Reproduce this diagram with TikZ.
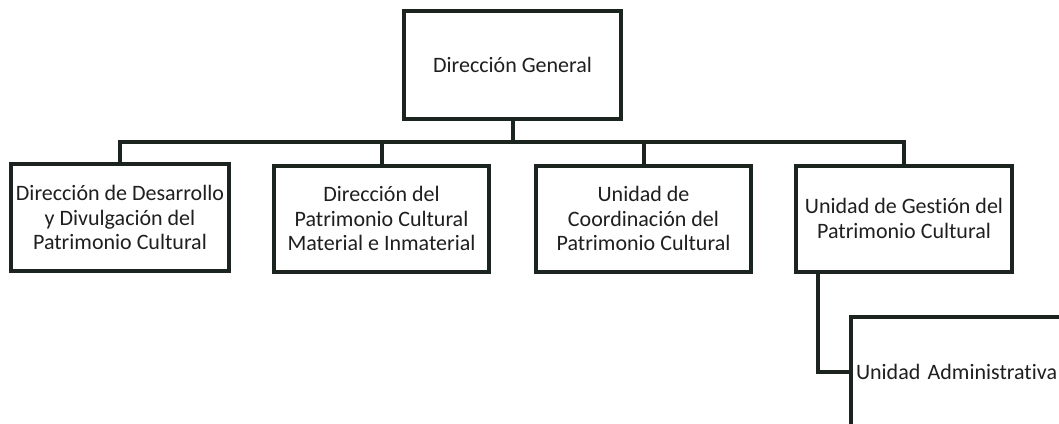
\documentclass[tikz,border=0pt]{standalone}
\usepackage{fontspec}
\setmainfont{Carlito}[Ligatures={NoCommon}]
\definecolor{ink}{RGB}{28,36,32}
\begin{document}
\begin{tikzpicture}[x=1pt,y=-1pt,
  box/.style={draw=ink,line width=4pt,fill=white,align=center,inner sep=0pt,
    font=\fontsize{22}{24.5}\selectfont,text=black!88},
  conn/.style={draw=ink,line width=4pt}]
\useasboundingbox (0,0) rectangle (1059,423);
\fill[white] (0,0) rectangle (1059,423);
\clip (0,0) rectangle (1059,423);
\node[box,minimum width=217pt,minimum height=108pt] (top) at (512.5,65) {Dirección General};
\node[box,minimum width=218pt,minimum height=107pt] (b1) at (120,217.5) {Dirección de Desarrollo\\y Divulgación del\\Patrimonio Cultural};
\node[box,minimum width=215pt,minimum height=106pt] (b2) at (381.5,218.5) {Dirección del\\Patrimonio Cultural\\Material e Inmaterial};
\node[box,minimum width=215pt,minimum height=106pt] (b3) at (643.5,218.5) {Unidad de\\Coordinación del\\Patrimonio Cultural};
\node[box,minimum width=216pt,minimum height=106pt] (b4) at (904,218.5) {Unidad de Gestión del\\Patrimonio Cultural};
\node[box,minimum width=212pt,minimum height=110pt,text width=202pt,align=left] (sub) at (957,372) {Unidad Administrativa};
\coordinate (j) at (512.5,142);
\draw[conn] (top.south) -- (j);
\draw[conn] (b1.north) |- (j) -| (b4.north);
\draw[conn] (b2.north) -- (b2.north |- j);
\draw[conn] (b3.north) -- (b3.north |- j);
\draw[conn] ([xshift=-86pt]b4.south) |- (sub.west);
\end{tikzpicture}
\end{document}
